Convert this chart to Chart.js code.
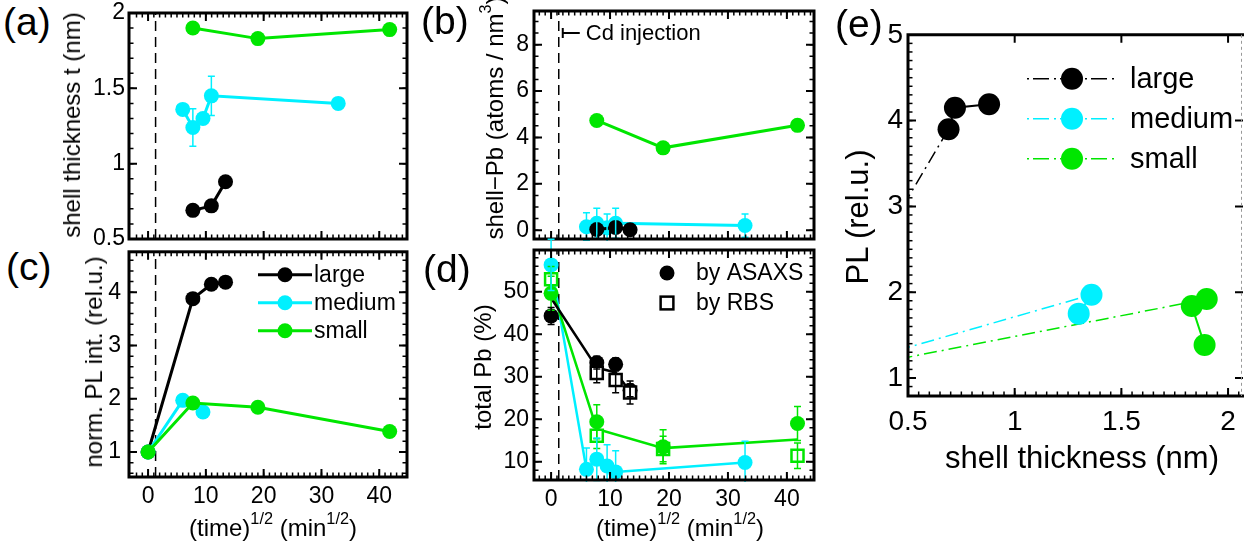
<!DOCTYPE html>
<html>
<head>
<meta charset="utf-8">
<script src="https://cdn.jsdelivr.net/npm/chart.js@4.4.4/dist/chart.umd.min.js"></script>
<style>
  body { margin: 0; background: #fff; }
  #fig { position: relative; width: 1244px; height: 544px; overflow: hidden; background: #fff;
         font-family: "Liberation Sans", Arial, sans-serif; color: #000; }
  #fig canvas { position: absolute; }
  .lbl { position: absolute; white-space: nowrap; line-height: 1; }
  .rot { transform: translate(-50%, -50%) rotate(-90deg); }
  .ctr { transform: translate(-50%, -50%); }
  .lbl sup { font-size: 0.68em; vertical-align: baseline; position: relative; top: -0.75em; }
</style>
</head>
<body>
<div id="fig">
  <canvas id="cA"></canvas>
  <canvas id="cB"></canvas>
  <canvas id="cC"></canvas>
  <canvas id="cD"></canvas>
  <canvas id="cE"></canvas>

  <div class="lbl" style="left:3px;top:2px;font-size:39px">(a)</div>
  <div class="lbl" style="left:421px;top:1px;font-size:39px">(b)</div>
  <div class="lbl" style="left:6px;top:247px;font-size:39px">(c)</div>
  <div class="lbl" style="left:423px;top:249px;font-size:39px">(d)</div>
  <div class="lbl" style="left:835px;top:4px;font-size:39px">(e)</div>

  <div class="lbl rot" style="left:72px;top:125px;font-size:24px">shell thickness t (nm)</div>
  <div class="lbl rot" style="left:94px;top:362px;font-size:24px">norm. PL int. (rel.u.)</div>
  <div class="lbl rot" style="left:495px;top:118px;font-size:24px">shell−Pb (atoms / nm<sup>3</sup>)</div>
  <div class="lbl rot" style="left:483px;top:367px;font-size:24px">total Pb (%)</div>
  <div class="lbl ctr" style="left:273px;top:528px;font-size:24px">(time)<sup>1/2</sup> (min<sup>1/2</sup>)</div>
  <div class="lbl ctr" style="left:680px;top:528px;font-size:24px">(time)<sup>1/2</sup> (min<sup>1/2</sup>)</div>
  <div class="lbl rot" style="left:857px;top:217px;font-size:31px">PL (rel.u.)</div>
  <div class="lbl ctr" style="left:1082px;top:457px;font-size:31px">shell thickness (nm)</div>
</div>

<script>
// ---- values ----
const injectionTime = 1.3;                 // Cd injection, (min)^1/2

const timeTicks = [0, 10, 20, 30, 40];
const shellTicks = [0.5, 1, 1.5, 2];
const shellPbTicks = [0, 2, 4, 6, 8];
const plTicks = [1, 2, 3, 4];
const totalPbTicks = [10, 20, 30, 40, 50];
const thickTicks = [0.5, 1, 1.5, 2];
const plThickTicks = [1, 2, 3, 4, 5];

const sizeNames = ['large', 'medium', 'small'];

// (a) and (b): sampling times per core size
const timeLarge = [7.75, 10.95, 13.4];
const timeMedium = [6, 7.75, 9.5, 10.95, 32.9];
const timeSmall = [7.75, 19, 41.8];

const shellLarge = [0.69, 0.72, 0.88];
const shellMedium = [1.36, 1.24, 1.30, 1.45, 1.40];
const shellMediumErr = [0.02, 0.125, 0.03, 0.13, 0.03];
const shellSmall = [1.90, 1.83, 1.89];

const shellPbLarge = [0.03, 0.12, 0.02];
const shellPbMedium = [0.15, 0.3, 0.1, 0.3, 0.2];
const shellPbMediumErr = [0.6, 0.65, 0.6, 0.65, 0.5];
const shellPbSmall = [4.73, 3.55, 4.52];

// (c) normalised PL
const plTimeLarge = [0, 7.75, 10.95, 13.4];
const plLarge = [1, 3.88, 4.15, 4.19];
const plTimeMedium = [0, 6, 9.5];
const plMedium = [1, 1.97, 1.75];
const plTimeSmall = [0, 7.75, 19, 41.8];
const plSmall = [1, 1.92, 1.84, 1.385];

// (d) total Pb, ASAXS (circles), RBS (squares), mean (line)
const asaxsTimeLarge = [0, 7.75, 10.95, 13.4];
const asaxsLarge = [44.3, 33.3, 32.9, 26.8];
const asaxsLargeErr = [2, 1.5, 1.5, 1.5];
const rbsTimeLarge = [7.75, 10.95, 13.4];
const rbsLarge = [30.9, 29.2, 26.3];
const rbsLargeErr = [2.3, 3, 2.7];
const meanLarge = [48.5, 32.1, 31, 26.5];

const asaxsTimeMedium = [0, 6, 7.75, 9.5, 10.95, 32.9];
const asaxsMedium = [56.3, 8.2, 10.6, 9, 7.6, 9.8];
const asaxsMediumErr = [6, 5, 5, 5, 5, 5];

const asaxsTimeSmall = [0, 7.75, 19, 41.8];
const asaxsSmall = [49.6, 19.4, 13.5, 19];
const asaxsSmallErr = [4, 4, 4, 4];
const rbsSmall = [52.9, 16.1, 13, 11.4];
const rbsSmallErr = [3, 3, 3, 3];
const meanSmall = [51.2, 17.7, 13.2, 15.2];

// (e) PL versus shell thickness (first point = bare core)
const thickLarge = [0, 0.69, 0.72, 0.88];
const plThickLarge = [1, 3.9, 4.15, 4.19];
const thickMedium = [0, 1.36, 1.30];
const plThickMedium = [1, 1.97, 1.75];
const thickSmall = [0, 1.90, 1.83, 1.89];
const plThickSmall = [1, 1.92, 1.84, 1.385];

// ---- styling ----
const F = '"Liberation Sans", Arial, sans-serif';
const BLACK = '#000000', CYAN = '#00f0ff', GREEN = '#00e600';

const pts = (xs, ys) => xs.map((x, i) => ({ x, y: ys[i] }));

// box frame with inward major/minor ticks on the sides, MATLAB style
const framePlugin = {
  id: 'frame',
  afterDraw(chart, args, o) {
    const { ctx, chartArea: a, scales: { x, y } } = chart;
    const minorSides = o.minorSides || ['top', 'bottom', 'left', 'right'];
    const majorSides = ['top', 'bottom', 'left', 'right'];
    const steps = (min, max, step) => {
      const out = [];
      for (let i = Math.ceil(min / step - 1e-6); i * step <= max + 1e-6; i++) out.push(i * step);
      return out;
    };
    const tickX = (v, len, sides) => {
      const px = x.getPixelForValue(v);
      if (px < a.left + 2 || px > a.right - 2) return;
      ctx.beginPath();
      if (sides.includes('bottom')) { ctx.moveTo(px, a.bottom); ctx.lineTo(px, a.bottom - len); }
      if (sides.includes('top')) { ctx.moveTo(px, a.top); ctx.lineTo(px, a.top + len); }
      ctx.stroke();
    };
    const tickY = (v, len, sides) => {
      const py = y.getPixelForValue(v);
      if (py < a.top + 2 || py > a.bottom - 2) return;
      ctx.beginPath();
      if (sides.includes('left')) { ctx.moveTo(a.left, py); ctx.lineTo(a.left + len, py); }
      if (sides.includes('right')) { ctx.moveTo(a.right, py); ctx.lineTo(a.right - len, py); }
      ctx.stroke();
    };
    ctx.save();
    ctx.strokeStyle = '#000';
    ctx.lineWidth = 1.5;
    steps(x.min, x.max, o.xMinor).forEach(v => tickX(v, 4.5, minorSides));
    steps(y.min, y.max, o.yMinor).forEach(v => tickY(v, 4.5, minorSides));
    ctx.lineWidth = 2;
    x.ticks.forEach(t => tickX(t.value, 8, majorSides));
    y.ticks.forEach(t => tickY(t.value, 8, majorSides));

    ctx.lineWidth = 3;
    if (o.dashedRight) {
      ctx.beginPath();
      ctx.moveTo(a.right + 2, a.top); ctx.lineTo(a.left, a.top);
      ctx.lineTo(a.left, a.bottom); ctx.lineTo(a.right + 2, a.bottom);
      ctx.stroke();
      ctx.strokeStyle = '#999'; ctx.lineWidth = 1; ctx.setLineDash([3, 3]);
      ctx.beginPath(); ctx.moveTo(a.right - 1.5, a.top); ctx.lineTo(a.right - 1.5, a.bottom); ctx.stroke();
    } else {
      ctx.strokeRect(a.left, a.top, a.right - a.left, a.bottom - a.top);
    }
    ctx.restore();
  },
};

// dashed line at the Cd injection time, optionally with its annotation
const injectionPlugin = {
  id: 'injection',
  beforeDatasetsDraw(chart, args, o) {
    if (o.x == null) return;
    const { ctx, chartArea: a, scales: { x } } = chart;
    const px = x.getPixelForValue(o.x);
    ctx.save();
    ctx.strokeStyle = '#000';
    ctx.lineWidth = 1.5;
    ctx.setLineDash([10, 6]);
    ctx.beginPath(); ctx.moveTo(px, a.bottom); ctx.lineTo(px, a.top); ctx.stroke();
    ctx.setLineDash([]);
    if (o.label) {
      const yy = a.top + o.dy;
      ctx.lineWidth = 2;
      ctx.beginPath();
      ctx.moveTo(px + 4, yy - 5); ctx.lineTo(px + 4, yy + 5);
      ctx.moveTo(px + 4, yy); ctx.lineTo(px + 21, yy);
      ctx.stroke();
      ctx.fillStyle = '#000';
      ctx.font = `22px ${F}`;
      ctx.textBaseline = 'middle';
      ctx.fillText(o.label, px + 27, yy + 1);
    }
    ctx.restore();
  },
};

// vertical error bars from a dataset's `errors` array
const errorBarPlugin = {
  id: 'errorBars',
  afterDatasetsDraw(chart) {
    const { ctx, chartArea: a, scales: { y } } = chart;
    ctx.save();
    ctx.beginPath();
    ctx.rect(a.left - 20, a.top - 20, a.right - a.left + 40, a.bottom - a.top + 22);
    ctx.clip();
    chart.data.datasets.forEach((ds, i) => {
      if (!ds.errors) return;
      const meta = chart.getDatasetMeta(i);
      ctx.strokeStyle = ds.errorColor || ds.borderColor;
      ctx.lineWidth = 1.5;
      meta.data.forEach((el, j) => {
        const e = ds.errors[j];
        if (!e) return;
        const v = ds.data[j].y;
        const y1 = y.getPixelForValue(v + e), y2 = y.getPixelForValue(v - e);
        ctx.beginPath();
        ctx.moveTo(el.x, y1); ctx.lineTo(el.x, y2);
        ctx.moveTo(el.x - 3.5, y1); ctx.lineTo(el.x + 3.5, y1);
        ctx.moveTo(el.x - 3.5, y2); ctx.lineTo(el.x + 3.5, y2);
        ctx.stroke();
      });
    });
    ctx.restore();
  },
};

// legend: optional line through a marker, then the label
const keyPlugin = {
  id: 'key',
  afterDraw(chart, args, o) {
    if (!o.items) return;
    const { ctx, chartArea: a } = chart;
    ctx.save();
    ctx.font = `${o.fontSize}px ${F}`;
    ctx.textBaseline = 'middle';
    o.items.forEach((it, i) => {
      const cy = a.top + o.y + i * o.rowH;
      const cx = a.left + o.x;
      if (o.lineLen) {
        ctx.strokeStyle = it.color;
        ctx.lineWidth = o.lineWidth;
        if (o.dash) {
          ctx.setLineDash(o.dash);
          ctx.beginPath(); ctx.moveTo(cx - o.lineLen / 2, cy); ctx.lineTo(cx - o.r, cy); ctx.stroke();
          ctx.beginPath(); ctx.moveTo(cx + o.r + 2, cy); ctx.lineTo(cx + o.lineLen / 2, cy); ctx.stroke();
          ctx.setLineDash([]);
        } else {
          ctx.beginPath(); ctx.moveTo(cx - o.lineLen / 2, cy); ctx.lineTo(cx + o.lineLen / 2, cy); ctx.stroke();
        }
      }
      if (it.marker === 'rect') {
        const s = o.r * 0.85;
        ctx.fillStyle = '#fff'; ctx.fillRect(cx - s, cy - s, 2 * s, 2 * s);
        ctx.strokeStyle = it.color; ctx.lineWidth = 2.5; ctx.strokeRect(cx - s, cy - s, 2 * s, 2 * s);
      } else {
        ctx.fillStyle = it.color;
        ctx.beginPath(); ctx.arc(cx, cy, o.r, 0, Math.PI * 2); ctx.fill();
      }
      ctx.fillStyle = '#000';
      ctx.fillText(it.label, a.left + o.textX, cy + 1);
    });
    ctx.restore();
  },
};

function axis(min, max, ticks, opts) {
  return {
    type: 'linear', min, max,
    afterBuildTicks: (s) => { s.ticks = ticks.map((v) => ({ value: v })); },
    afterFit: (s) => { if (opts.width != null) s.width = opts.width; if (opts.height != null) s.height = opts.height; },
    grid: { display: false, drawTicks: false },
    border: { display: false },
    ticks: {
      display: opts.labels !== false,
      color: '#000',
      font: { family: F, size: opts.size || 23 },
      padding: opts.pad || 4,
      maxRotation: 0,
      autoSkip: false,
      callback: (v) => String(v),
    },
  };
}

function line(data, color, extra) {
  return Object.assign({
    data, showLine: true, borderColor: color, backgroundColor: color,
    borderWidth: 3, pointRadius: 7.5, pointHoverRadius: 7.5, pointBorderWidth: 0,
    clip: false,
  }, extra);
}

function panel(id, box, yw, xh, datasets, scales, plugOpts) {
  const pt = 20, pr = 20;
  const cv = document.getElementById(id);
  const w = box.r - box.l + yw + pr, h = box.b - box.t + pt + xh;
  cv.style.left = `${box.l - yw}px`;
  cv.style.top = `${box.t - pt}px`;
  cv.width = w; cv.height = h;
  cv.style.width = `${w}px`; cv.style.height = `${h}px`;
  return new Chart(cv, {
    type: 'scatter',
    data: { datasets },
    options: {
      responsive: false,
      animation: false,
      events: [],
      layout: { padding: { top: pt, right: pr, left: 0, bottom: 0 } },
      scales,
      plugins: Object.assign({ legend: { display: false }, tooltip: { enabled: false } }, plugOpts),
    },
    plugins: [injectionPlugin, framePlugin, errorBarPlugin, keyPlugin],
  });
}

// (a) shell thickness vs sqrt(time)
panel('cA', { l: 129, t: 13, r: 407, b: 239 }, 60, 20, [
  line(pts(timeSmall, shellSmall), GREEN),
  line(pts(timeMedium, shellMedium), CYAN, { errors: shellMediumErr }),
  line(pts(timeLarge, shellLarge), BLACK),
], {
  x: axis(-3.3, 44.8, timeTicks, { height: 20, labels: false }),
  y: axis(0.5, 2.0, shellTicks, { width: 60, pad: 4 }),
}, { frame: { xMinor: 1, yMinor: 0.1 }, injection: { x: injectionTime } });

// (b) Pb in the shell
panel('cB', { l: 534, t: 11, r: 814, b: 239 }, 60, 20, [
  line(pts(timeSmall, shellPbSmall), GREEN),
  line(pts(timeLarge, shellPbLarge), BLACK),
  line(pts(timeMedium, shellPbMedium), CYAN, { errors: shellPbMediumErr }),
], {
  x: axis(-2.9, 44.6, timeTicks, { height: 20, labels: false }),
  y: axis(-0.38, 9.45, shellPbTicks, { width: 60, pad: 5 }),
}, { frame: { xMinor: 1, yMinor: 0.5 }, injection: { x: injectionTime, label: 'Cd injection', dy: 22 } });

// (c) normalised PL intensity
panel('cC', { l: 129, t: 250, r: 407, b: 477 }, 60, 50, [
  line(pts(plTimeSmall, plSmall), GREEN),
  line(pts(plTimeMedium, plMedium), CYAN),
  line(pts(plTimeLarge, plLarge), BLACK),
], {
  x: axis(-3.3, 44.8, timeTicks, { height: 50, pad: 6 }),
  y: axis(0.53, 4.76, plTicks, { width: 60, pad: 8 }),
}, {
  frame: { xMinor: 1, yMinor: 0.2 },
  injection: { x: injectionTime },
  key: {
    items: [{ label: sizeNames[0], color: BLACK }, { label: sizeNames[1], color: CYAN }, { label: sizeNames[2], color: GREEN }],
    x: 156, y: 23, rowH: 28, textX: 185, lineLen: 54, lineWidth: 3, r: 7.5, fontSize: 23,
  },
});

// (d) total Pb content
panel('cD', { l: 534, t: 250, r: 814, b: 480 }, 60, 50, [
  line(pts(asaxsTimeSmall, asaxsSmall), GREEN, { showLine: false, errors: asaxsSmallErr, order: 1 }),
  line(pts(asaxsTimeSmall, rbsSmall), GREEN, { showLine: false, pointStyle: 'rect', pointRadius: 8.5,
    pointBorderWidth: 2.5, pointBorderColor: GREEN, pointBackgroundColor: '#fff', errors: rbsSmallErr, order: 2 }),
  line(pts(asaxsTimeSmall, meanSmall), GREEN, { pointRadius: 0, borderWidth: 2.5, order: 5 }),
  line(pts(asaxsTimeMedium, asaxsMedium), CYAN, { borderWidth: 2.5, errors: asaxsMediumErr, order: 6 }),
  line(pts(asaxsTimeLarge, asaxsLarge), BLACK, { showLine: false, errors: asaxsLargeErr, order: 3 }),
  line(pts(rbsTimeLarge, rbsLarge), BLACK, { showLine: false, pointStyle: 'rect', pointRadius: 8.5,
    pointBorderWidth: 2.5, pointBorderColor: BLACK, pointBackgroundColor: '#fff', errors: rbsLargeErr, order: 0 }),
  line(pts(asaxsTimeLarge, meanLarge), BLACK, { pointRadius: 0, borderWidth: 2.5, order: 4 }),
], {
  x: axis(-2.9, 44.6, timeTicks, { height: 50, pad: 6 }),
  y: axis(5.7, 59.8, totalPbTicks, { width: 60, pad: 5 }),
}, {
  frame: { xMinor: 1, yMinor: 2 },
  injection: { x: injectionTime },
  key: {
    items: [{ label: 'by ASAXS', color: BLACK }, { label: 'by RBS', color: BLACK, marker: 'rect' }],
    x: 133, y: 23, rowH: 30, textX: 162, r: 7.5, fontSize: 23,
  },
});

// (e) PL versus shell thickness
const dashDot = [13, 5, 2, 5];
const eLine = (xs, ys, color) => line(pts(xs, ys), color, {
  clip: 0,
  pointRadius: (c) => (c.dataIndex === 0 ? 0 : 11),
  segment: {
    borderDash: (c) => (c.p0DataIndex === 0 ? dashDot : undefined),
    borderWidth: (c) => (c.p0DataIndex === 0 ? 1.5 : 2),
  },
});
panel('cE', { l: 908, t: 33, r: 1243, b: 396 }, 60, 50, [
  eLine(thickLarge, plThickLarge, BLACK),
  eLine(thickMedium, plThickMedium, CYAN),
  eLine(thickSmall, plThickSmall, GREEN),
], {
  x: axis(0.5, 2.07, thickTicks, { height: 50, size: 28, pad: 9 }),
  y: axis(0.79, 5.0, plThickTicks, { width: 60, size: 28, pad: 5 }),
}, {
  frame: { xMinor: 0.05, yMinor: 0.1, minorSides: ['left', 'bottom'], dashedRight: true },
  key: {
    items: [{ label: sizeNames[0], color: BLACK }, { label: sizeNames[1], color: CYAN }, { label: sizeNames[2], color: GREEN }],
    x: 164, y: 44, rowH: 40, textX: 222, lineLen: 90, lineWidth: 1.5, dash: [2, 4, 16, 5], r: 11, fontSize: 29,
  },
});
</script>
</body>
</html>
